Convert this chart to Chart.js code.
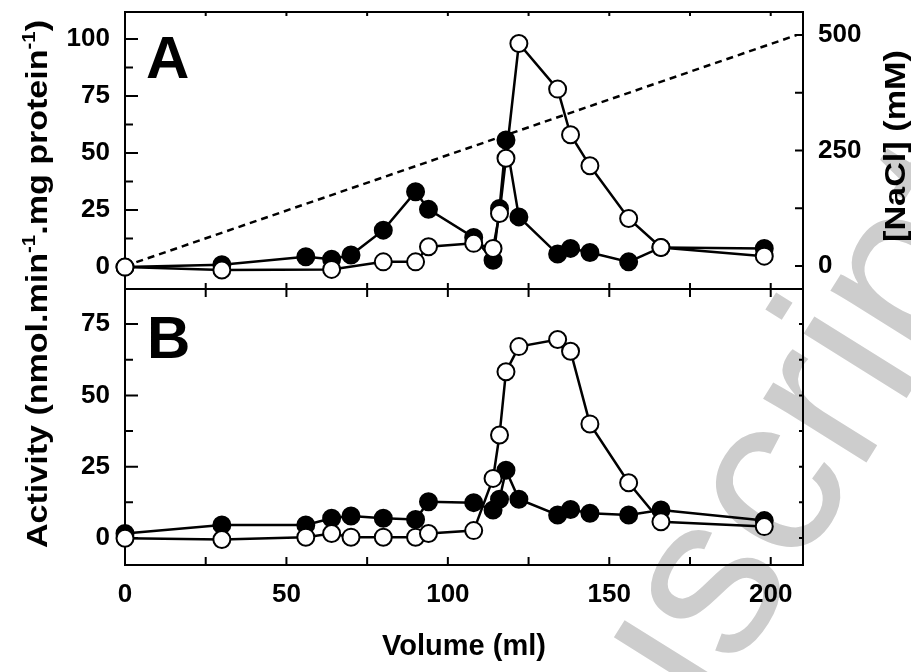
<!DOCTYPE html>
<html>
<head>
<meta charset="utf-8">
<script src="https://cdn.jsdelivr.net/npm/chart.js@4.4.0/dist/chart.umd.min.js"></script>
<style>
  html, body { margin: 0; padding: 0; background: #fff; }
</style>
</head>
<body>
<canvas id="elutionChart" width="911" height="672"></canvas>
<script>
// Panel A - fractions and activities (open / filled symbols)
const volA_open   = [0, 30, 64, 80, 90, 94, 108, 114, 116, 118, 122, 134, 138, 144, 156, 166, 198];
const actA_open   = [0, -1.3, -1, 2.3, 2.3, 8.9, 10.4, 8.2, 23.5, 47.7, 98, 78, 58, 44.4, 21.3, 8.6, 4.8];
const volA_filled = [0, 30, 56, 64, 70, 80, 90, 94, 108, 114, 116, 118, 122, 134, 138, 144, 156, 166, 198];
const actA_filled = [0, 1, 4.5, 3.4, 5.3, 16.2, 33, 25.3, 13, 3, 25.7, 55.7, 22, 5.7, 8.2, 6.4, 2.3, 8.6, 8.2];

// Panel B
const volB_open   = [0, 30, 56, 64, 70, 80, 90, 94, 108, 114, 116, 118, 122, 134, 138, 144, 156, 166, 198];
const actB_open   = [-0.1, -0.5, 0.3, 1.6, 0.3, 0.3, 0.3, 1.6, 2.6, 20.9, 36.1, 58.3, 67.1, 69.6, 65.5, 40, 19.4, 5.7, 4];
const volB_filled = [0, 30, 56, 64, 70, 80, 90, 94, 108, 114, 116, 118, 122, 134, 138, 144, 156, 166, 198];
const actB_filled = [1.6, 4.6, 4.6, 6.9, 7.7, 6.9, 6.5, 12.7, 12.4, 9.8, 13.6, 23.8, 13.6, 8.1, 10, 8.7, 8.1, 9.8, 6.1];

// NaCl gradient (mM)
const volNaCl = [0, 208];
const naclMM  = [0, 500];

const xTicks  = [0, 50, 100, 150, 200];
const aTicks  = [0, 25, 50, 75, 100];
const bTicks  = [0, 25, 50, 75];
const rTicks  = [0, 250, 500];

const FONT = "'Liberation Sans', Arial, sans-serif";
const pts = (xs, ys) => xs.map((x, i) => ({ x: x, y: ys[i] }));

function series(xs, ys, axis, filled) {
    return {
        data: pts(xs, ys),
        yAxisID: axis,
        borderColor: '#000',
        borderWidth: 2.5,
        backgroundColor: filled ? '#000' : '#fff',
        pointBackgroundColor: filled ? '#000' : '#fff',
        pointBorderColor: '#000',
        pointBorderWidth: 2,
        pointRadius: 8.5,
        pointHoverRadius: 8.5,
        tension: 0,
        clip: false
    };
}

function drawRich(ctx, parts, cx, cy, len) {
    ctx.save();
    ctx.translate(cx, cy);
    ctx.rotate(-Math.PI / 2);
    let w = 0;
    parts.forEach(p => { ctx.font = p[1] ? "bold 18px " + FONT : "bold 30px " + FONT; w += ctx.measureText(p[0]).width; });
    ctx.scale(len / w, 1);
    let x = -w / 2;
    ctx.textAlign = 'left';
    ctx.textBaseline = 'alphabetic';
    ctx.fillStyle = '#000';
    parts.forEach(p => {
        ctx.font = p[1] ? "bold 18px " + FONT : "bold 30px " + FONT;
        ctx.fillText(p[0], x, p[1] ? -12 : 0);
        x += ctx.measureText(p[0]).width;
    });
    ctx.restore();
}

// fixed axis boxes, no label overflow padding
function fixBox(w, h) {
    return s => {
        if (w) s.width = w;
        if (h) s.height = h;
        s.paddingTop = 0; s.paddingBottom = 0; s.paddingLeft = 0; s.paddingRight = 0;
    };
}

const framePlugin = {
    id: 'frame',
    beforeDraw(chart) {
        const ctx = chart.ctx;
        ctx.save();
        ctx.fillStyle = '#fff';
        ctx.fillRect(0, 0, chart.width, chart.height);
        // watermark
        ctx.translate(736, 671);
        ctx.rotate(-58 * Math.PI / 180);
        ctx.font = "230px " + FONT;
        ctx.fillStyle = '#cdcdcd';
        ctx.textAlign = 'left';
        ctx.fillText('script', 0, 0);
        ctx.textAlign = 'right';
        ctx.fillText('Manu', 0, 0);
        ctx.restore();
    },
    beforeDatasetsDraw(chart) {
        const ctx = chart.ctx;
        const a = chart.chartArea;
        const sx = chart.scales.x, yA = chart.scales.yA, yB = chart.scales.yB, yR = chart.scales.yR;
        const mid = yA.top < yB.top ? yA.bottom : yB.bottom;
        ctx.save();
        ctx.strokeStyle = '#000';
        ctx.lineWidth = 2;
        ctx.strokeRect(a.left, a.top, a.right - a.left, a.bottom - a.top);
        ctx.beginPath();
        ctx.moveTo(a.left, mid); ctx.lineTo(a.right, mid);
        // x ticks
        for (let v = 0; v <= 200; v += 25) {
            const px = sx.getPixelForValue(v);
            ctx.moveTo(px, a.bottom); ctx.lineTo(px, a.bottom - 8);
            ctx.moveTo(px, mid - 6); ctx.lineTo(px, mid + 8);
            ctx.moveTo(px, a.top); ctx.lineTo(px, a.top + 4);
        }
        // left ticks
        for (let v = 0; v <= 100; v += 12.5) {
            const py = yA.getPixelForValue(v);
            ctx.moveTo(a.left, py); ctx.lineTo(a.left + (v % 25 === 0 ? 13 : 8), py);
        }
        for (let v = 0; v <= 75; v += 12.5) {
            const py = yB.getPixelForValue(v);
            ctx.moveTo(a.left, py); ctx.lineTo(a.left + (v % 25 === 0 ? 13 : 8), py);
            ctx.moveTo(a.right, py); ctx.lineTo(a.right - 4, py);
        }
        // right ticks (NaCl)
        for (let v = 0; v <= 500; v += 125) {
            const py = yR.getPixelForValue(v);
            ctx.moveTo(a.right, py); ctx.lineTo(a.right - 8, py);
        }
        ctx.stroke();

        ctx.fillStyle = '#000';
        ctx.font = "bold 60px " + FONT;
        ctx.textAlign = 'left';
        ctx.textBaseline = 'alphabetic';
        ctx.fillText('A', a.left + 21, a.top + 66);
        ctx.fillText('B', a.left + 22, mid + 69);

        ctx.font = "bold 29px " + FONT;
        ctx.textAlign = 'center';
        ctx.fillText('Volume (ml)', (a.left + a.right) / 2, 655);
        ctx.restore();

        drawRich(ctx, [['Activity (nmol.min', 0], ['-1', 1], ['.mg protein', 0], ['-1', 1], [')', 0]], 47, 284, 528);
        drawRich(ctx, [['[NaCl] (mM)', 0]], 905, 146, 192);
    }
};

const tickFont = { family: FONT, size: 26, weight: 'bold' };

new Chart(document.getElementById('elutionChart').getContext('2d'), {
    type: 'line',
    data: {
        datasets: [
            series(volA_open, actA_open, 'yA', false),
            series(volA_filled, actA_filled, 'yA', true),
            series(volB_open, actB_open, 'yB', false),
            series(volB_filled, actB_filled, 'yB', true),
            {
                data: pts(volNaCl, naclMM),
                yAxisID: 'yR',
                borderColor: '#000',
                borderWidth: 2.5,
                borderDash: [7, 5],
                pointRadius: 0,
                clip: false
            }
        ]
    },
    options: {
        responsive: false,
        animation: false,
        events: [],
        layout: { padding: { top: 12, left: 0, right: 0, bottom: 0 }, autoPadding: false },
        plugins: { legend: { display: false }, tooltip: { enabled: false } },
        scales: {
            x: {
                type: 'linear', position: 'bottom', min: 0, max: 210,
                grid: { display: false, drawTicks: false }, border: { display: false },
                afterFit: fixBox(0, 107),
                afterBuildTicks: s => { s.ticks = xTicks.map(v => ({ value: v })); },
                ticks: { font: tickFont, color: '#000', padding: 14, maxRotation: 0, autoSkip: false }
            },
            yB: {
                type: 'linear', position: 'left', stack: 'left', stackWeight: 276,
                min: -9.46, max: 87.3,
                grid: { display: false, drawTicks: false }, border: { display: false },
                afterFit: fixBox(125, 0),
                afterBuildTicks: s => { s.ticks = bTicks.map(v => ({ value: v })); },
                ticks: { font: tickFont, color: '#000', padding: 15 }
            },
            yA: {
                type: 'linear', position: 'left', stack: 'left', stackWeight: 277,
                min: -9.6, max: 111.8,
                grid: { display: false, drawTicks: false }, border: { display: false },
                afterFit: fixBox(125, 0),
                afterBuildTicks: s => { s.ticks = aTicks.map(v => ({ value: v })); },
                ticks: { font: tickFont, color: '#000', padding: 15 }
            },
            yR: {
                type: 'linear', position: 'right', min: -647, max: 550,
                grid: { display: false, drawTicks: false }, border: { display: false },
                afterFit: fixBox(108, 0),
                afterBuildTicks: s => { s.ticks = rTicks.map(v => ({ value: v })); },
                ticks: { font: tickFont, color: '#000', padding: 15 }
            }
        }
    },
    plugins: [framePlugin]
});
</script>
</body>
</html>
